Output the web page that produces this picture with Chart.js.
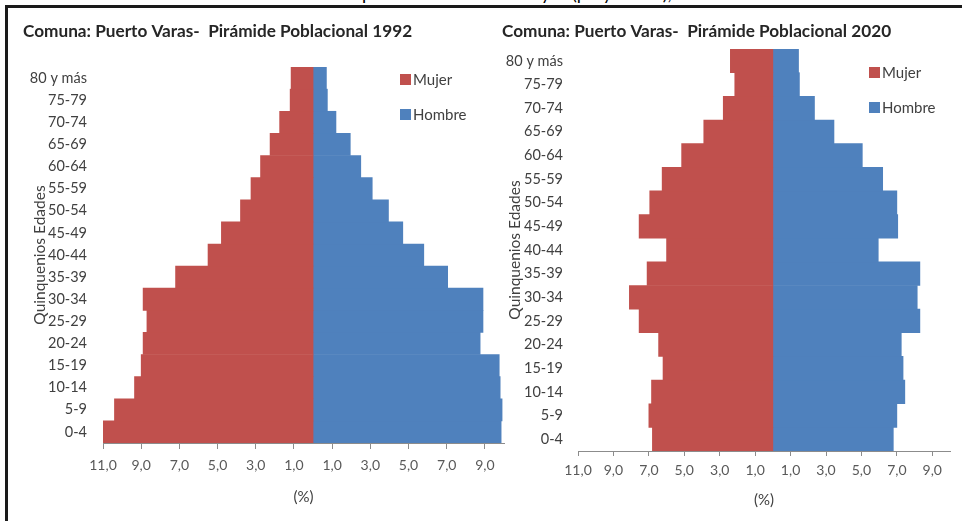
<!DOCTYPE html>
<html>
<head>
<meta charset="utf-8">
<script src="https://cdn.jsdelivr.net/npm/chart.js@4.4.1/dist/chart.umd.min.js"></script>
<style>
    body { margin: 0; background: #fff; font-family: Lato, sans-serif; }
    #page { position: relative; width: 962px; height: 521px; overflow: hidden; background: #fff; }
    .frame-top { position: absolute; left: 5px; top: 5px; width: 957px; height: 3px; background: #1a1a1a; }
    .frame-left { position: absolute; left: 5px; top: 5px; width: 3px; height: 516px; background: #1a1a1a; }
    .panel { position: absolute; top: 0; }
    .caption span { position: absolute; top: -16px; font-size: 18px; line-height: 18px; color: #000; white-space: nowrap; }
    .legend-item { position: absolute; display: flex; align-items: center; font-size: 15px; line-height: 16px; color: #404040; white-space: nowrap; }
    .legend-item .sw { display: inline-block; width: 11px; height: 11px; margin-right: 2px; }
</style>
</head>
<body>
<div id="page">
    <div class="caption">
        <span style="left:362px">po</span>
        <span style="left:541px">y</span>
        <span style="left:572px">(proyección),</span>
    </div>
    <div class="frame-top"></div>
    <div class="frame-left"></div>
    <canvas id="chart1992" class="panel" style="left:0px" width="506" height="521"></canvas>
    <canvas id="chart2020" class="panel" style="left:490px" width="472" height="521"></canvas>
    <div id="legends"></div>
</div>

<script>
// datos (% de la poblacion por quinquenio)
const edades = ['0-4', '5-9', '10-14', '15-19', '20-24', '25-29', '30-34', '35-39', '40-44',
    '45-49', '50-54', '55-59', '60-64', '65-69', '70-74', '75-79', '80 y más'];

const mujer1992 = [11.0, 10.4, 9.35, 9.0, 8.9, 8.7, 8.9, 7.2, 5.5, 4.8, 3.8, 3.25, 2.75, 2.25, 1.75, 1.2, 1.15];
const hombre1992 = [9.85, 9.9, 9.8, 9.75, 8.75, 8.9, 8.9, 7.05, 5.8, 4.7, 3.95, 3.1, 2.5, 1.95, 1.2, 0.75, 0.7];

const mujer2020 = [6.8, 7.0, 6.85, 6.2, 6.45, 7.55, 8.1, 7.1, 6.0, 7.55, 6.95, 6.25, 5.15, 3.9, 2.8, 2.15, 2.4];
const hombre2020 = [6.8, 7.0, 7.45, 7.35, 7.25, 8.3, 8.15, 8.3, 5.95, 7.05, 7.0, 6.2, 5.05, 3.45, 2.35, 1.5, 1.45];

const ticksX = [-11, -9, -7, -5, -3, -1, 1, 3, 5, 7, 9];
const ejeMin = -11;
const ejeMax = 10;

const colorMujer = '#C0504D';
const colorHombre = '#4F81BD';

function makePyramid(canvasId, titulo, mujer, hombre, g) {
    const ctx = document.getElementById(canvasId);
    return new Chart(ctx, {
        type: 'bar',
        data: {
            labels: edades,
            datasets: [{
                label: 'Mujer',
                data: mujer.map(v => -v),
                backgroundColor: colorMujer,
                borderWidth: 0,
                barPercentage: 1,
                categoryPercentage: 1
            }, {
                label: 'Hombre',
                data: hombre,
                backgroundColor: colorHombre,
                borderWidth: 0,
                barPercentage: 1,
                categoryPercentage: 1
            }]
        },
        options: {
            indexAxis: 'y',
            responsive: false,
            animation: false,
            layout: { padding: { left: g.padLeft, right: g.padRight, top: 0, bottom: 0 } },
            plugins: {
                legend: { display: false },
                tooltip: { enabled: false },
                title: {
                    display: true,
                    text: titulo,
                    align: 'start',
                    color: '#262626',
                    font: { family: 'Lato', size: 17.2, weight: 'bold' },
                    padding: { top: g.titleTop, bottom: g.titleBottom }
                }
            },
            scales: {
                x: {
                    stacked: true,
                    min: ejeMin,
                    max: ejeMax,
                    afterBuildTicks: s => { s.ticks = ticksX.map(v => ({ value: v })); },
                    afterFit: s => { s.height = g.xHeight; },
                    grid: { drawOnChartArea: false, drawTicks: true, tickLength: g.tickLen, color: '#8c8c8c' },
                    border: { display: true, color: '#8c8c8c' },
                    ticks: {
                        padding: g.tickPad,
                        color: '#595959',
                        autoSkip: false,
                        maxRotation: 0,
                        font: { family: 'Lato', size: 14 },
                        callback: v => Math.abs(v).toFixed(1).replace('.', ',')
                    },
                    title: {
                        display: true,
                        text: '(%)',
                        color: '#404040',
                        font: { family: 'Lato', size: 15 },
                        padding: { top: 0, bottom: g.xTitlePad }
                    }
                },
                y: {
                    stacked: true,
                    reverse: true,
                    afterFit: s => { s.width = g.yWidth; },
                    grid: { display: false, drawTicks: false },
                    border: { display: false },
                    ticks: {
                        padding: g.yTickPad,
                        color: '#404040',
                        autoSkip: false,
                        font: { family: 'Lato', size: 14.5 }
                    },
                    title: {
                        display: true,
                        text: 'Quinquenios Edades',
                        color: '#404040',
                        font: { family: 'Lato', size: 15.5 },
                        padding: { top: g.yTitlePad, bottom: 0 }
                    }
                }
            }
        }
    });
}

const chart1992 = makePyramid('chart1992', 'Comuna: Puerto Varas-  Pirámide Poblacional 1992', mujer1992, hombre1992, {
    padLeft: 23, padRight: 2, yWidth: 80, titleTop: 20.7, titleBottom: 25.7,
    xHeight: 78, tickLen: 6, tickPad: 8, xTitlePad: 15, yTickPad: 16, yTitlePad: 7.7
});

const chart2020 = makePyramid('chart2020', 'Comuna: Puerto Varas-  Pirámide Poblacional 2020', mujer2020, hombre2020, {
    padLeft: 12, padRight: 12, yWidth: 76, titleTop: 20.7, titleBottom: 7.7,
    xHeight: 70, tickLen: 5, tickPad: 5.6, xTitlePad: 12, yTickPad: 15, yTitlePad: 3.7
});

// leyendas dentro del area del grafico
const legendSpots = [
    { chart: chart1992, x: 400, y: [71, 106] },
    { chart: chart2020, x: 869, y: [64, 99] }
];
const legendBox = document.getElementById('legends');
legendSpots.forEach(spot => {
    spot.chart.data.datasets.forEach((ds, i) => {
        const item = document.createElement('div');
        item.className = 'legend-item';
        item.style.left = spot.x + 'px';
        item.style.top = spot.y[i] + 'px';
        item.innerHTML = '<span class="sw" style="background:' + ds.backgroundColor + '"></span>' + ds.label;
        legendBox.appendChild(item);
    });
});
</script>
</body>
</html>
